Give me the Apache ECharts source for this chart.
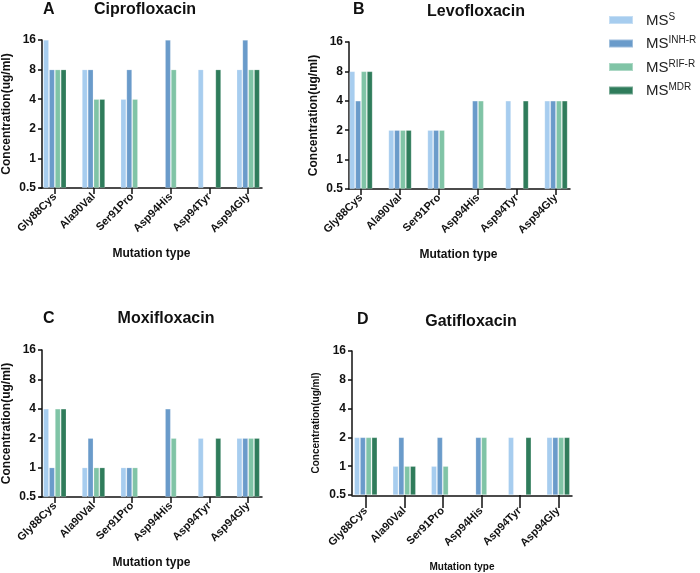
<!DOCTYPE html>
<html>
<head>
<meta charset="utf-8">
<script src="https://cdn.jsdelivr.net/npm/echarts@6/dist/echarts.min.js"></script>
<style>html,body{margin:0;padding:0;background:#fff}#c{width:700px;height:573px}</style>
</head>
<body>
<div id="c"></div>
<script>
// ---- data ----
const categories = ['Gly88Cys', 'Ala90Val', 'Ser91Pro', 'Asp94His', 'Asp94Tyr', 'Asp94Gly'];
const groups = ['S', 'INH-R', 'RIF-R', 'MDR'];
const yTicks = [0.5, 1, 2, 4, 8, 16];
const panelLetters = ['A', 'B', 'C', 'D'];
const panelTitles = ['Ciprofloxacin', 'Levofloxacin', 'Moxifloxacin', 'Gatifloxacin'];

const cipro_S   = [16, 8, 4, null, 8, 8];
const cipro_INH = [8, 8, 8, 16, null, 16];
const cipro_RIF = [8, 4, 4, 8, null, 8];
const cipro_MDR = [8, 4, null, null, 8, 8];

const levo_S   = [8, 2, 2, null, 4, 4];
const levo_INH = [4, 2, 2, 4, null, 4];
const levo_RIF = [8, 2, 2, 4, null, 4];
const levo_MDR = [8, 2, null, null, 4, 4];

const moxi_S   = [4, 1, 1, null, 2, 2];
const moxi_INH = [1, 2, 1, 4, null, 2];
const moxi_RIF = [4, 1, 1, 2, null, 2];
const moxi_MDR = [4, 1, null, null, 2, 2];

const gati_S   = [2, 1, 1, null, 2, 2];
const gati_INH = [2, 2, 2, 2, null, 2];
const gati_RIF = [2, 1, 1, 2, null, 2];
const gati_MDR = [2, 1, null, null, 2, 2];

const panelData = [
  [cipro_S, cipro_INH, cipro_RIF, cipro_MDR],
  [levo_S, levo_INH, levo_RIF, levo_MDR],
  [moxi_S, moxi_INH, moxi_RIF, moxi_MDR],
  [gati_S, gati_INH, gati_RIF, gati_MDR]
];

// ---- layout / style ----
const FONT = 'Arial, "Liberation Sans", Helvetica, sans-serif';
const colors = ['#a7cdef', '#6a9bca', '#80c4a6', '#2f7c5b'];
const layout = [
  { left: 33.5, top: 40, width: 234, height: 148, axL: 40, axW: 222, yOff: -6.5, letterX: 43, letterY: 2, titleX: 145, titleY: 2, tick: 6, lblMargin: 7, cat: 11, nameFs: 12, nameGapY: 29, nameGapX: 60 },
  { left: 341.5, top: 42, width: 234, height: 147, axL: 349, axW: 221, yOff: -7.5, letterX: 353, letterY: 2, titleX: 476, titleY: 4, tick: 6, lblMargin: 7, cat: 11, nameFs: 12, nameGapY: 29, nameGapX: 60 },
  { left: 33.5, top: 350, width: 234, height: 147, axL: 40, axW: 222, yOff: -6.5, letterX: 43, letterY: 311, titleX: 166, titleY: 311, tick: 6, lblMargin: 7, cat: 11, nameFs: 12, nameGapY: 29, nameGapX: 60 },
  { left: 346.5, top: 351, width: 231, height: 145, axL: 352, axW: 220, yOff: -5.5, letterX: 357, letterY: 312, titleX: 471, titleY: 314, tick: 13, lblMargin: 14, cat: 11, nameFs: 10, nameGapY: 31, nameGapX: 67 }
];

const grid = [], xAxis = [], yAxis = [], series = [], title = [];
layout.forEach((L, p) => {
  grid.push({ left: L.left, top: L.top, width: L.width, height: L.height });
  grid.push({ left: L.axL, top: L.top, width: L.axW, height: L.height });
  const gi = p * 2;
  xAxis.push({
    type: 'category', gridIndex: gi, data: categories, boundaryGap: true,
    axisLine: { show: false },
    axisTick: { show: true, alignWithLabel: true, length: L.tick, lineStyle: { color: '#111', width: 1.5 } },
    axisLabel: { rotate: 45, margin: L.lblMargin, interval: 0, color: '#111', fontWeight: 'bold', fontSize: L.cat, fontFamily: FONT },
    name: 'Mutation type', nameLocation: 'middle', nameGap: L.nameGapX,
    nameTextStyle: { color: '#111', fontWeight: 'bold', fontSize: L.nameFs, fontFamily: FONT }
  });
  xAxis.push({
    type: 'value', gridIndex: gi + 1, min: 0, max: 1,
    axisLine: { show: true, lineStyle: { color: '#111', width: 1.5 } },
    axisTick: { show: false }, axisLabel: { show: false }, splitLine: { show: false }
  });
  yAxis.push({
    type: 'log', logBase: 2, gridIndex: gi, min: yTicks[0], max: yTicks[yTicks.length - 1],
    startValue: yTicks[0], offset: L.yOff,
    axisLine: { show: true, lineStyle: { color: '#111', width: 1.5 } },
    axisTick: { show: true, length: 4, lineStyle: { color: '#111', width: 1.5 } },
    axisLabel: { color: '#111', fontWeight: 'bold', fontSize: 12, fontFamily: FONT, margin: 6,
      formatter: v => String(+(+v).toPrecision(3)) },
    splitLine: { show: false },
    name: 'Concentration(ug/ml)', nameLocation: 'middle', nameGap: L.nameGapY, nameRotate: 90,
    nameTextStyle: { color: '#111', fontWeight: 'bold', fontSize: L.nameFs, fontFamily: FONT }
  });
  yAxis.push({ type: 'value', gridIndex: gi + 1, show: false, min: 0, max: 1 });

  groups.forEach((g, s) => {
    series.push({
      type: 'bar', name: g, xAxisIndex: gi, yAxisIndex: gi,
      data: panelData[p][s], barWidth: 5.5, barGap: '6%',
      itemStyle: { color: colors[s], borderColor: 'rgba(255,255,255,0.35)', borderWidth: 0.6 },
      emphasis: { disabled: true }
    });
  });

  title.push({ text: panelLetters[p], left: L.letterX, top: L.letterY, padding: 0,
    textStyle: { fontSize: 16, fontWeight: 'bold', color: '#111', fontFamily: FONT } });
  title.push({ text: panelTitles[p], left: L.titleX, top: L.titleY, padding: 0, textAlign: 'center',
    textStyle: { fontSize: 16, fontWeight: 'bold', color: '#111', fontFamily: FONT } });
});

const chart = echarts.init(document.getElementById('c'), null, { renderer: 'canvas' });
chart.setOption({
  animation: false,
  backgroundColor: '#fff',
  title: title,
  legend: {
    data: groups, orient: 'vertical', left: 608, top: 12, itemWidth: 24, itemHeight: 8, itemGap: 7.5,
    icon: 'rect', padding: 0,
    formatter: n => '{b|MS}{sup|' + n + '}',
    textStyle: {
      color: '#222', fontFamily: FONT,
      rich: {
        b: { fontSize: 15, lineHeight: 16, padding: [0, 0, 0, 8], verticalAlign: 'bottom', fontFamily: FONT, color: '#222' },
        sup: { fontSize: 10, lineHeight: 16, verticalAlign: 'top', fontFamily: FONT, color: '#222' }
      }
    }
  },
  grid: grid, xAxis: xAxis, yAxis: yAxis, series: series
});
</script>
</body>
</html>
